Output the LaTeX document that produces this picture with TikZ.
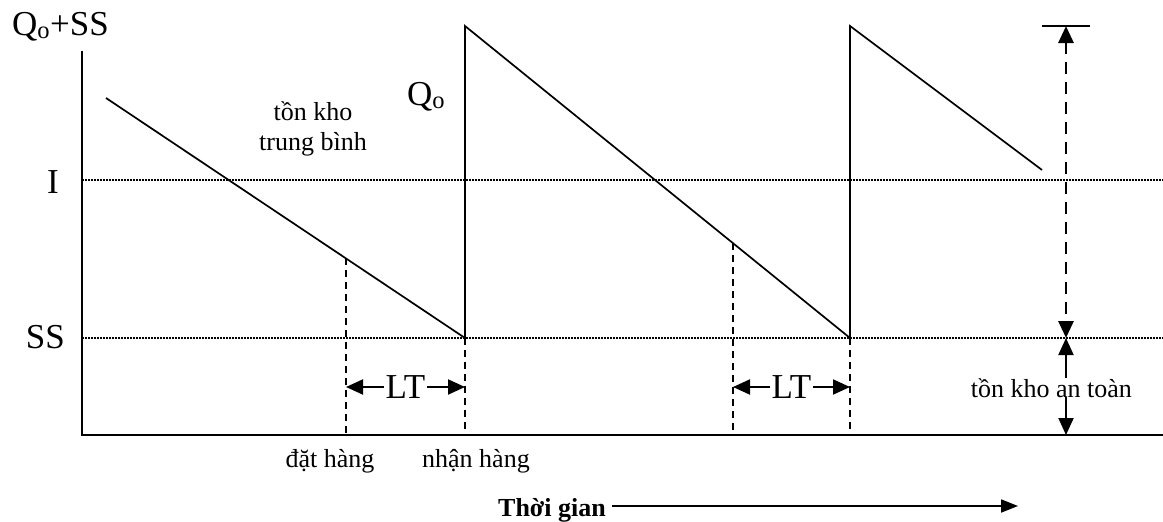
\documentclass[tikz,border=0pt]{standalone}
\usepackage{fontspec}
\setmainfont{Liberation Serif}
\usetikzlibrary{arrows.meta, positioning}

\begin{document}
\begin{tikzpicture}[x=1pt, y=-1pt,
    big/.style={font=\fontsize{35}{40}\selectfont, inner sep=0pt},
    small/.style={font=\fontsize{26}{30}\selectfont, inner sep=0pt, align=center},
    axisline/.style={draw, line width=2pt},
    stock/.style={draw, line width=1.7pt},
    dotline/.style={draw, line width=1.4pt, dash pattern=on 1.6pt off 1.4pt},
    lead/.style={draw, line width=1.6pt, dash pattern=on 7pt off 5pt},
    arrow/.style={draw, line width=2pt, {Triangle[length=17pt, width=15pt]}-{Triangle[length=17pt, width=15pt]}}
]
    \useasboundingbox (0,0) rectangle (1163,522);

    % Points
    \coordinate (ytop) at (82,51);
    \coordinate (org) at (82,435);
    \coordinate (xend) at (1163,435);
    \coordinate (iL) at (82,180);
    \coordinate (iR) at (1163,180);
    \coordinate (sL) at (82,338);
    \coordinate (sR) at (1163,338);
    \coordinate (p0) at (106,98);
    \coordinate (p1) at (465,338);
    \coordinate (p2) at (465,26);
    \coordinate (p3) at (850,338);
    \coordinate (p4) at (850,26);
    \coordinate (p5) at (1042,170);
    \coordinate (ord1) at (346,258);
    \coordinate (ord1b) at (346,435);
    \coordinate (rec1b) at (465,435);
    \coordinate (ord2) at (733,243);
    \coordinate (ord2b) at (733,435);
    \coordinate (rec2b) at (850,435);
    \coordinate (lt1a) at (346,387);
    \coordinate (lt1b) at (465,387);
    \coordinate (lt2a) at (733,387);
    \coordinate (lt2b) at (850,387);
    \coordinate (tickL) at (1042,26);
    \coordinate (tickR) at (1090,26);
    \coordinate (q1) at (1066,26);
    \coordinate (q2) at (1066,338);
    \coordinate (q3) at (1066,435);
    \coordinate (tstart) at (612,506);
    \coordinate (tend) at (1018,506);

    % Axes and levels
    \draw[axisline] (ytop) -- (org) -- (xend);
    \draw[dotline] (iL) -- (iR);
    \draw[dotline] (sL) -- (sR);

    % Stock level
    \draw[stock] (p0) -- (p1) -- (p2) -- (p3) -- (p4) -- (p5);

    % Order and receipt marks
    \draw[lead] (ord1) -- (ord1b);
    \draw[lead] (p1) -- (rec1b);
    \draw[lead] (ord2) -- (ord2b);
    \draw[lead] (p3) -- (rec2b);
    \draw[arrow] (lt1a) -- node[big, fill=white, inner xsep=2pt] (lt1) {LT} (lt1b);
    \draw[arrow] (lt2a) -- node[big, fill=white, inner xsep=2pt] (lt2) {LT} (lt2b);

    % Labels
    \node[big, anchor=base west] (qss) at (12,35) {Q\textsubscript{o}+SS};
    \node[big, anchor=base] (ilab) at (53,193) {I};
    \node[big, anchor=base east] (sslab) at (65,348) {SS};
    \node[big, anchor=base west] (qlab) at (407,105) {Q\textsubscript{o}};
    \node[small] (avg) at (313,129) {tồn kho\\trung bình};
    \node[small, anchor=base] (order) at (330,467) {đặt hàng};
    \node[small, anchor=base west] (receipt) at (422,467) {nhận hàng};

    % Right side measure
    \draw[line width=1.6pt] (tickL) -- (tickR);
    \draw[arrow, dash pattern=on 12pt off 8pt, line width=2.8pt] (q1) -- (q2);
    \node[small, anchor=base east, fill=white] (safe) at (1132,397) {tồn kho an toàn};
    \draw[line width=2pt, {Triangle[length=17pt, width=15pt]}-] (q2) -- (safe.north -| q2);
    \draw[line width=2pt, -{Triangle[length=17pt, width=15pt]}] (safe.south -| q2) -- (q3);

    % Time axis
    \node[small, font=\fontsize{26}{30}\selectfont\bfseries, anchor=base east] (time) at (606,516) {Thời gian};
    \draw[line width=1.8pt, -{Triangle[length=17pt, width=13pt]}] (tstart) -- (tend);
\end{tikzpicture}
\end{document}
